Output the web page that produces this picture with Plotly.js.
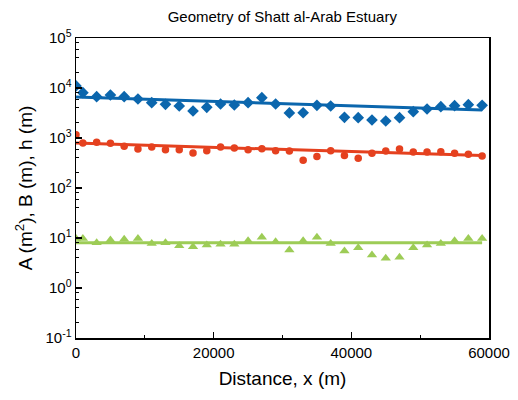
<!DOCTYPE html>
<html>
<head>
<meta charset="utf-8">
<script src="https://cdn.plot.ly/plotly-3.0.1.min.js"></script>
<style>html,body{margin:0;padding:0;background:#fff;}#chart{width:518px;height:400px;}</style>
</head>
<body>
<div id="chart"></div>
<script>
// Distance along estuary (m)
const distance = [0, 1000, 3000, 5000, 7000, 9000, 11000, 13000, 15000, 17000, 19000,
  21000, 23000, 25000, 27000, 29000, 31000, 33000, 35000, 37000, 39000,
  41000, 43000, 45000, 47000, 49000, 51000, 53000, 55000, 57000, 59000];
// Cross-sectional area A (m^2)
const areaA = [11000, 8050, 6700, 7240, 6700, 6030, 5080, 4720, 4370, 3470, 4110,
  4790, 4570, 5080, 6400, 4790, 3180, 3200, 4510, 4370, 2590,
  2550, 2290, 2190, 2550, 3360, 3800, 4230, 4430, 4630, 4510];
// Width B (m)
const widthB = [1160, 794, 820, 783, 682, 603, 661, 583, 583, 501, 557,
  661, 631, 583, 611, 557, 550, 358, 427, 557, 447,
  393, 494, 550, 603, 525, 525, 532, 494, 472, 437];
// Depth h (m)
const depthH = [9.8, 9.8, 8.05, 9.1, 9.4, 9.8, 7.8, 8.05, 7.0, 6.7, 7.24,
  7.5, 7.5, 8.8, 10.3, 8.4, 5.75, 8.8, 10.3, 7.8, 5.5,
  6.4, 4.57, 3.93, 4.1, 6.4, 7.24, 7.8, 8.8, 9.8, 9.8];
// Fitted exponential trends (end points)
const fitX = [0, 59000];
const fitA = [6600, 3630];
const fitB = [790, 445];
const fitH = [8.0, 8.0];
// Axis tick labels
const yTickVals = [0.1, 1, 10, 100, 1000, 10000, 100000];
const yTickText = ['10<sup>-1</sup>', '10<sup>0</sup>', '10<sup>1</sup>', '10<sup>2</sup>', '10<sup>3</sup>', '10<sup>4</sup>', '10<sup>5</sup>'];
const xTickVals = [0, 20000, 40000, 60000];
const xTickText = ['0', '20000', '40000', '60000'];

const cBlue = '#0b66ad', cRed = '#e5411f', cGreen = '#9dcc56';

const yMinor = [];
for (let d = -1; d < 5; d++) { for (const m of [2, 4, 6, 8]) yMinor.push(m * Math.pow(10, d)); }

const traces = [
  {x: fitX, y: fitA, mode: 'lines', line: {color: cBlue, width: 3}, hoverinfo: 'skip'},
  {x: fitX, y: fitB, mode: 'lines', line: {color: cRed, width: 3}, hoverinfo: 'skip'},
  {x: fitX, y: fitH, mode: 'lines', line: {color: cGreen, width: 3}, hoverinfo: 'skip'},
  {x: distance, y: areaA, mode: 'markers', marker: {symbol: 'diamond', size: 9, color: cBlue}},
  {x: distance, y: widthB, mode: 'markers', marker: {symbol: 'circle', size: 7.5, color: cRed}},
  {x: distance, y: depthH, mode: 'markers', marker: {symbol: 'triangle-up', size: 9, color: cGreen}}
];

const layout = {
  width: 518, height: 400,
  margin: {l: 76, r: 29, t: 38, b: 62},
  paper_bgcolor: '#fff', plot_bgcolor: '#fff',
  showlegend: false,
  font: {family: 'Liberation Sans, Arial, sans-serif', color: '#000'},
  title: {text: 'Geometry of Shatt al-Arab Estuary', font: {size: 15, color: '#000'}, x: 0.545, xanchor: 'center', y: 0.957, yanchor: 'middle'},
  xaxis: {
    range: [0, 60000], showgrid: false, zeroline: false,
    showline: true, linecolor: '#000', linewidth: 1.5, mirror: true,
    ticks: 'inside', ticklen: 6, tickwidth: 1.2, tickcolor: '#000',
    tickmode: 'array', tickvals: xTickVals, ticktext: xTickText,
    tickfont: {size: 15},
    minor: {tickmode: 'array', tickvals: [10000, 30000, 50000], ticks: 'inside', ticklen: 3, tickcolor: '#000', tickwidth: 1.2},
    title: {text: 'Distance, x (m)', font: {size: 19}, standoff: 12}
  },
  yaxis: {
    type: 'log', range: [-1, 5], showgrid: false, zeroline: false,
    showline: true, linecolor: '#000', linewidth: 1.5, mirror: true,
    ticks: 'inside', ticklen: 6, tickwidth: 1.2, tickcolor: '#000',
    tickmode: 'array', tickvals: yTickVals, ticktext: yTickText,
    tickfont: {size: 15},
    minor: {tickmode: 'array', tickvals: yMinor, ticks: 'inside', ticklen: 3, tickcolor: '#000', tickwidth: 1},
    title: {text: 'A (m<sup>2</sup>), B (m), h (m)', font: {size: 19}, standoff: 8}
  }
};

Plotly.newPlot('chart', traces, layout, {staticPlot: true, displayModeBar: false});
</script>
</body>
</html>
